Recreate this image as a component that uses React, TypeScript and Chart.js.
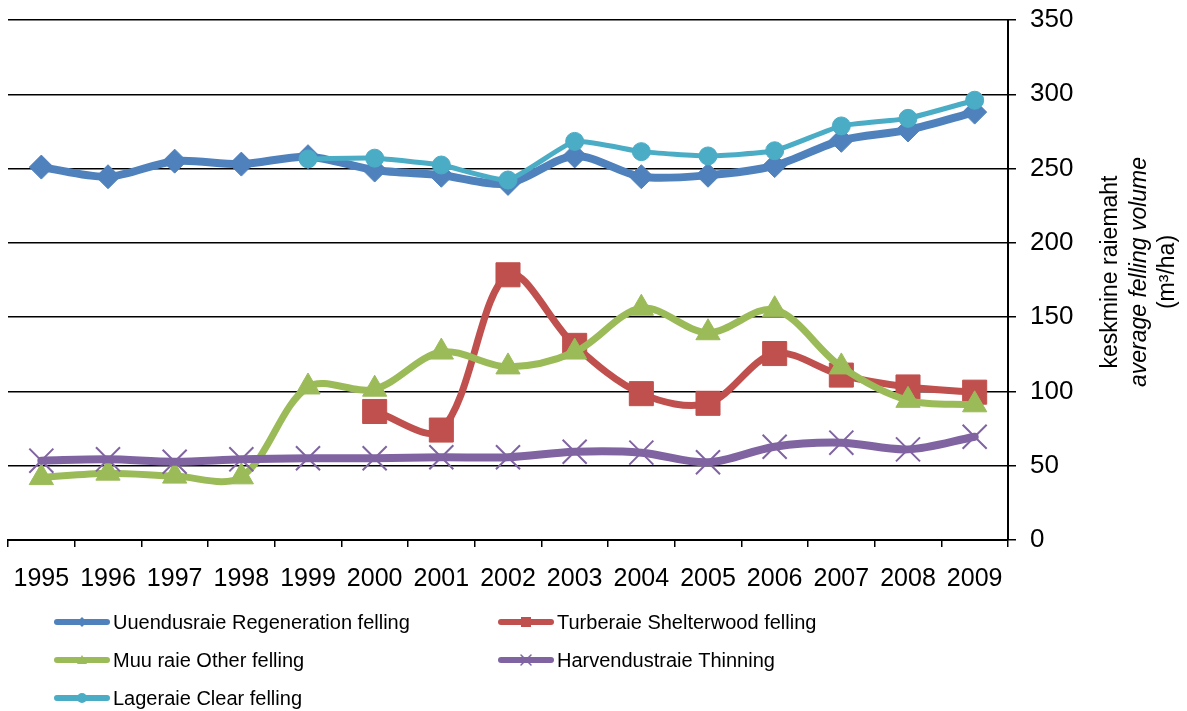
import React, { useEffect, useRef } from "react";
import { Chart, registerables } from "chart.js";

Chart.register(...registerables);

const years = ["1995","1996","1997","1998","1999","2000","2001","2002","2003","2004","2005","2006","2007","2008","2009"];
const regeneration = [251, 244.5, 255, 253, 258, 249, 245.5, 240, 258.5, 244.5, 245.5, 252, 269, 276, 288];
const shelterwood = [null, null, null, null, null, 86.5, 74, 178.5, 131, 98.5, 92, 125.5, 111, 103, 99.5];
const other = [42, 45, 43, 42.5, 103, 101.5, 126.5, 116.5, 126.5, 156, 139.5, 155, 116.5, 94, 91];
const thinning = [53.4, 54.3, 52.7, 54.3, 55, 55, 55.7, 55.7, 59.4, 58.8, 52.3, 62.8, 65.5, 61, 69.5];
const clear = [null, null, null, null, 256.5, 257, 252.4, 242.3, 268.3, 261.4, 258.5, 262, 278.7, 283.8, 296];

const seriesNames = [
  "Uuendusraie Regeneration felling",
  "Turberaie Shelterwood felling",
  "Muu raie Other felling",
  "Harvendustraie Thinning",
  "Lageraie Clear felling",
];
const titleLines = ["keskmine raiemaht", "average felling volume", "(m³/ha)"];

const FONT = "'Liberation Sans', Arial, sans-serif";
const COLORS = ["#4F81BD", "#C0504D", "#9BBB59", "#8064A2", "#4BACC6"];
const SHAPES = ["diamond", "square", "triangle", "x", "circle"];

function drawMarker(ctx: CanvasRenderingContext2D, shape: string, x: number, y: number, r: number, color: string) {
  ctx.save();
  ctx.fillStyle = color;
  ctx.strokeStyle = color;
  ctx.beginPath();
  if (shape === "diamond") {
    ctx.moveTo(x, y - r); ctx.lineTo(x + r, y); ctx.lineTo(x, y + r); ctx.lineTo(x - r, y); ctx.closePath(); ctx.fill();
  } else if (shape === "square") {
    ctx.rect(x - r, y - r, 2 * r, 2 * r); ctx.fill();
  } else if (shape === "triangle") {
    ctx.moveTo(x, y - r); ctx.lineTo(x + r, y + r * 0.8); ctx.lineTo(x - r, y + r * 0.8); ctx.closePath(); ctx.fill();
  } else if (shape === "x") {
    ctx.lineWidth = 1.5;
    ctx.moveTo(x - r, y - r); ctx.lineTo(x + r, y + r); ctx.moveTo(x + r, y - r); ctx.lineTo(x - r, y + r); ctx.stroke();
  } else {
    ctx.arc(x, y, r, 0, Math.PI * 2); ctx.fill();
  }
  ctx.restore();
}

const extrasPlugin = {
  id: "extras",
  afterDraw(chart: any) {
    const ctx: CanvasRenderingContext2D = chart.ctx;
    const xs = [1111, 1140, 1168];
    const cy = 272;
    titleLines.forEach((t, i) => {
      ctx.save();
      ctx.translate(xs[i], cy);
      ctx.rotate(-Math.PI / 2);
      ctx.fillStyle = "#000";
      ctx.textBaseline = "middle";
      if (i === 1) {
        const a = "average ";
        const b = "felling volume";
        ctx.font = "italic 23px " + FONT;
        const wa = ctx.measureText(a).width;
        const wb = ctx.measureText(b).width;
        const start = -(wa + wb) / 2;
        ctx.textAlign = "left";
        ctx.fillText(a, start, 0);
        ctx.fillText(b, start + wa, 0);
      } else {
        ctx.font = "23px " + FONT;
        ctx.textAlign = "center";
        ctx.fillText(t, 0, 0);
      }
      ctx.restore();
    });
    const pos = [
      [55, 622], [499, 622],
      [55, 660], [499, 660],
      [55, 698],
    ];
    seriesNames.forEach((name, i) => {
      const [x0, y] = pos[i];
      ctx.save();
      ctx.strokeStyle = COLORS[i];
      ctx.lineWidth = 6;
      ctx.lineCap = "round";
      ctx.beginPath();
      ctx.moveTo(x0 + 2, y);
      ctx.lineTo(x0 + 52, y);
      ctx.stroke();
      drawMarker(ctx, SHAPES[i], x0 + 27, y, 5, COLORS[i]);
      ctx.font = "20px " + FONT;
      ctx.fillStyle = "#000";
      ctx.textAlign = "left";
      ctx.textBaseline = "middle";
      ctx.fillText(name, x0 + 58, y + 1);
      ctx.restore();
    });
  },
};

export default function App() {
  const ref = useRef<HTMLCanvasElement | null>(null);
  useEffect(() => {
    document.body.style.margin = "0";
    const canvas = ref.current;
    if (!canvas) return;
    const mk = (i: number, data: (number | null)[], style: string, radius: number, width: number, order: number, tension: number) => ({
      label: seriesNames[i],
      data,
      borderColor: COLORS[i],
      backgroundColor: COLORS[i],
      pointBackgroundColor: COLORS[i],
      pointBorderColor: COLORS[i],
      pointStyle: style,
      pointRadius: radius,
      pointBorderWidth: style === "crossRot" ? 2 : 1,
      borderWidth: width,
      tension,
      order,
      spanGaps: false,
      borderCapStyle: "round",
      borderJoinStyle: "round",
    });
    const chart = new Chart(canvas, {
      type: "line",
      data: {
        labels: years,
        datasets: [
          mk(0, regeneration, "rectRot", 12, 8, 5, 0.3),
          mk(1, shelterwood, "rect", 17, 7, 4, 0.33),
          mk(2, other, "triangle", 14, 7, 3, 0.33),
          mk(3, thinning, "crossRot", 17, 8, 2, 0.33),
          mk(4, clear, "circle", 9, 5, 1, 0.15),
        ] as any,
      },
      options: {
        animation: false,
        responsive: false,
        layout: { autoPadding: false, padding: { left: 8, top: 20, right: 0, bottom: 0 } },
        plugins: { legend: { display: false }, tooltip: { enabled: false }, title: { display: false } },
        scales: {
          x: {
            type: "category",
            offset: true,
            grid: { display: true, drawOnChartArea: false, offset: true, color: "#000", lineWidth: 1.5, tickLength: 7 },
            border: { display: true, color: "#000", width: 2 },
            ticks: { color: "#000", font: { family: FONT, size: 25 }, padding: 17, maxRotation: 0, autoSkip: false },
            afterFit(scale: any) { scale.height = 171; scale.paddingLeft = 0; scale.paddingRight = 0; },
          },
          y: {
            position: "right",
            min: 0,
            max: 350,
            grid: { color: "#000", lineWidth: 1.5, tickLength: 8 },
            border: { display: true, color: "#000", width: 2 },
            ticks: { stepSize: 50, color: "#000", font: { family: FONT, size: 26 }, padding: 14 },
            afterFit(scale: any) { scale.width = 179; scale.paddingTop = 0; scale.paddingBottom = 0; },
          },
        },
      },
      plugins: [extrasPlugin],
    } as any);
    return () => chart.destroy();
  }, []);
  return (
    <div style={{ width: 1187, height: 711, background: "#fff" }}>
      <canvas ref={ref} width={1187} height={711} style={{ display: "block" }} />
    </div>
  );
}
